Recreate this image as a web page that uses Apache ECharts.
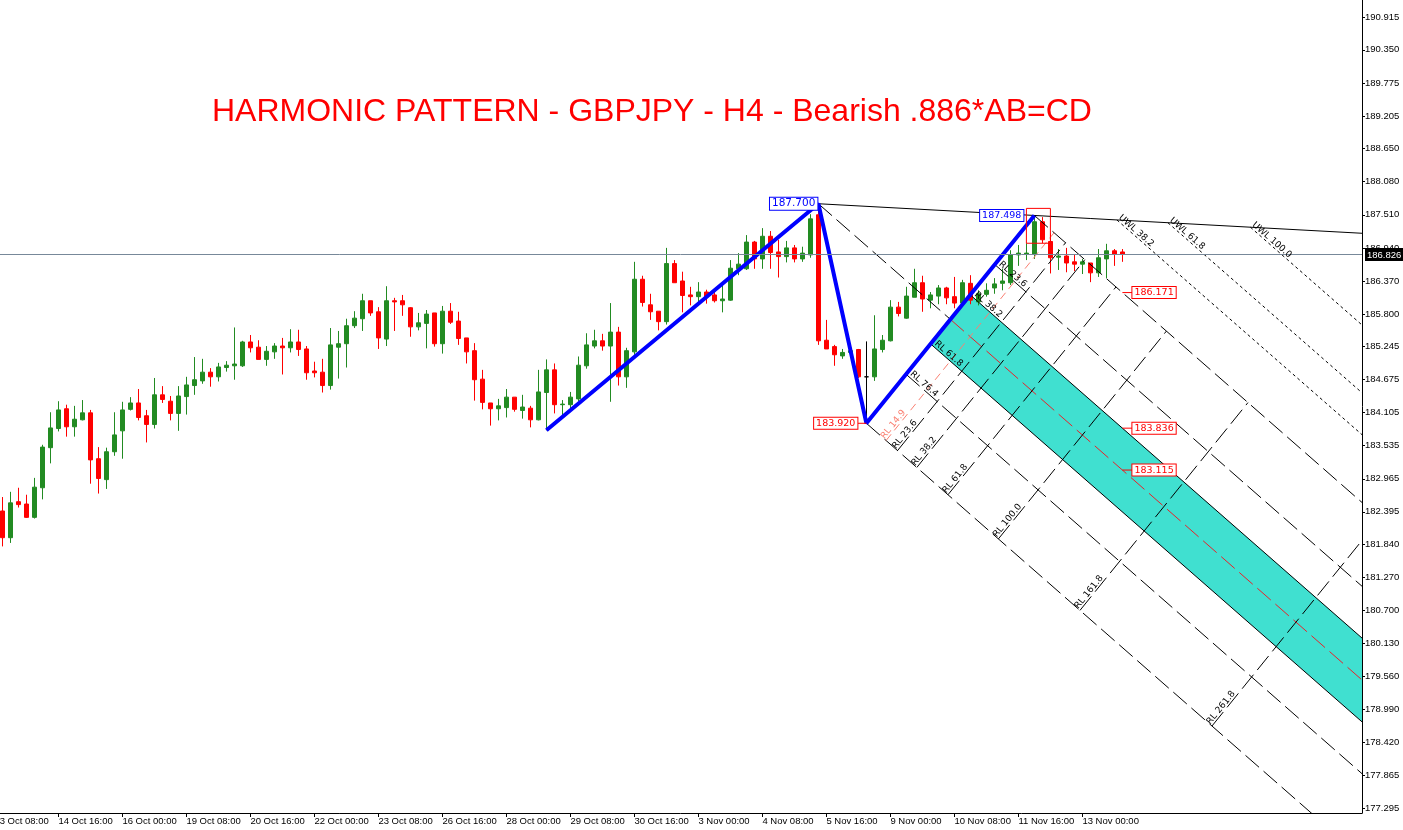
<!DOCTYPE html>
<html>
<head>
<meta charset="utf-8">
<title>GBPJPY H4 - harmonic pattern</title>
<script src="https://cdn.jsdelivr.net/npm/echarts@6/dist/echarts.min.js"></script>
<style>
html, body { margin: 0; padding: 0; background: #fff; }
#main { width: 1403px; height: 830px; }
</style>
</head>
<body>
<div id="main"></div>
<script>
// bottom labels, one every 8 H4 bars starting at bar 0
var dateLabels = ['13 Oct 08:00', '14 Oct 16:00', '16 Oct 00:00', '19 Oct 08:00', '20 Oct 16:00', '22 Oct 00:00',
    '23 Oct 08:00', '26 Oct 16:00', '28 Oct 00:00', '29 Oct 08:00', '30 Oct 16:00', '3 Nov 00:00',
    '4 Nov 08:00', '5 Nov 16:00', '9 Nov 00:00', '10 Nov 08:00', '11 Nov 16:00', '13 Nov 00:00'];
var barsPerLabel = 8;

var priceTicks = [190.915, 190.350, 189.775, 189.205, 188.650, 188.080, 187.510, 186.940, 186.370, 185.800,
    185.245, 184.675, 184.105, 183.535, 182.965, 182.395, 181.840, 181.270, 180.700, 180.130,
    179.560, 178.990, 178.420, 177.865, 177.295];
var lastPrice = 186.826;

// H4 candles, bar 1 .. bar 141
var candleOpen = [
    182.41, 181.95, 182.57, 182.53, 182.30, 182.81, 183.50, 183.83, 184.17, 183.86,
    183.98, 184.10, 183.31, 182.95, 183.43, 183.79, 184.16, 184.27, 184.05, 183.90,
    184.41, 184.30, 184.09, 184.38, 184.57, 184.65, 184.80, 184.72, 184.88, 184.91,
    184.91, 185.32, 185.23, 185.02, 185.15, 185.25, 185.22, 185.32, 185.20, 184.82,
    184.80, 184.57, 185.23, 185.29, 185.60, 185.72, 186.03, 185.84, 185.37, 186.03,
    186.03, 185.91, 185.58, 185.64, 185.82, 185.29, 185.85, 185.68, 185.39, 185.17,
    184.68, 184.27, 184.17, 184.19, 184.37, 184.14, 184.18, 183.98, 184.45, 184.84,
    184.24, 184.24, 184.34, 184.91, 185.25, 185.34, 185.25, 185.49, 184.72, 185.15,
    186.40, 185.96, 185.85, 185.67, 186.67, 186.37, 186.13, 186.10, 186.18, 186.13,
    186.03, 186.04, 186.58, 186.58, 187.04, 186.75, 187.14, 186.87, 186.79, 186.94,
    186.75, 186.82, 187.51, 185.35, 185.24, 185.08, 185.14, 185.19, 184.72, 184.72,
    185.19, 185.34, 185.92, 185.73, 186.09, 186.34, 186.04, 186.11, 186.25, 186.10,
    185.99, 186.33, 186.01, 186.14, 186.25, 186.33, 186.34, 186.82, 186.83, 186.83,
    187.39, 187.05, 186.78, 186.80, 186.70, 186.66, 186.68, 186.51, 186.75, 186.89,
    186.87];
var candleClose = [
    181.95, 182.55, 182.52, 182.30, 182.82, 183.51, 183.84, 184.15, 183.86, 183.99,
    184.10, 183.29, 182.97, 183.43, 183.72, 184.15, 184.27, 184.02, 183.90, 184.41,
    184.33, 184.09, 184.39, 184.58, 184.67, 184.80, 184.72, 184.89, 184.92, 184.94,
    185.32, 185.22, 185.02, 185.16, 185.25, 185.22, 185.32, 185.19, 184.79, 184.79,
    184.57, 185.27, 185.29, 185.60, 185.73, 186.03, 185.82, 185.39, 186.03, 186.01,
    185.96, 185.58, 185.65, 185.80, 185.29, 185.85, 185.66, 185.38, 185.15, 184.67,
    184.28, 184.17, 184.22, 184.37, 184.16, 184.20, 183.98, 184.46, 184.84, 184.24,
    184.25, 184.37, 184.92, 185.27, 185.34, 185.25, 185.49, 184.72, 185.17, 186.40,
    186.00, 185.84, 185.67, 186.67, 186.34, 186.12, 186.10, 186.18, 186.10, 186.03,
    186.06, 186.59, 186.66, 187.04, 186.75, 187.14, 186.86, 186.79, 186.94, 186.75,
    186.85, 187.44, 185.34, 185.20, 185.10, 185.14, 185.17, 184.72, 184.72, 185.20,
    185.35, 185.92, 185.81, 186.11, 186.34, 186.06, 186.13, 186.25, 186.08, 185.99,
    186.34, 186.04, 186.15, 186.21, 186.32, 186.37, 186.82, 186.85, 186.85, 187.39,
    187.08, 186.77, 186.80, 186.68, 186.66, 186.70, 186.51, 186.77, 186.89, 186.83,
    186.826];
var candleLow = [
    181.80, 181.86, 182.47, 182.29, 182.28, 182.61, 183.23, 183.78, 183.69, 183.69,
    183.97, 182.88, 182.71, 182.79, 183.36, 183.31, 184.14, 183.97, 183.59, 183.83,
    184.27, 183.97, 183.79, 184.07, 184.41, 184.60, 184.55, 184.64, 184.81, 184.67,
    184.89, 185.14, 185.02, 184.91, 185.03, 184.76, 185.14, 185.08, 184.67, 184.71,
    184.45, 184.50, 184.69, 184.88, 185.56, 185.51, 185.77, 185.20, 185.25, 185.51,
    185.77, 185.41, 185.52, 185.21, 185.24, 185.12, 185.63, 185.27, 184.95, 184.31,
    184.16, 183.88, 183.97, 184.02, 184.12, 184.00, 183.85, 183.97, 183.80, 184.09,
    184.03, 184.17, 184.30, 184.86, 185.21, 185.17, 184.29, 184.57, 184.53, 185.10,
    185.93, 185.70, 185.52, 185.62, 186.34, 185.83, 185.95, 186.00, 185.98, 186.00,
    185.83, 186.03, 186.47, 186.56, 186.58, 186.58, 186.58, 186.43, 186.69, 186.69,
    186.70, 186.77, 185.27, 185.20, 184.91, 185.03, 185.10, 184.70, 183.92, 184.65,
    185.14, 185.33, 185.76, 185.72, 186.09, 185.84, 185.90, 185.97, 185.97, 185.90,
    185.93, 185.97, 185.95, 186.10, 186.15, 186.21, 186.30, 186.63, 186.73, 186.75,
    187.02, 186.50, 186.56, 186.52, 186.54, 186.49, 186.35, 186.44, 186.42, 186.63,
    186.70];
var candleHigh = [
    182.65, 182.74, 182.81, 182.69, 182.98, 183.55, 184.11, 184.30, 184.24, 184.22,
    184.32, 184.15, 183.51, 183.50, 184.11, 184.29, 184.37, 184.51, 184.15, 184.70,
    184.56, 184.39, 184.56, 184.72, 185.06, 185.03, 184.87, 184.96, 184.99, 185.57,
    185.34, 185.44, 185.35, 185.25, 185.30, 185.39, 185.54, 185.53, 185.25, 184.98,
    185.03, 185.56, 185.51, 185.72, 185.85, 186.15, 186.03, 185.92, 186.28, 186.08,
    186.13, 185.92, 185.82, 185.87, 185.82, 185.94, 185.99, 185.84, 185.39, 185.30,
    184.84, 184.27, 184.34, 184.51, 184.37, 184.41, 184.22, 184.84, 185.02, 184.95,
    184.32, 184.46, 185.07, 185.47, 185.53, 185.46, 185.99, 185.58, 185.22, 186.70,
    186.46, 186.15, 185.85, 186.94, 186.73, 186.53, 186.27, 186.35, 186.22, 186.20,
    186.30, 186.73, 186.85, 187.16, 187.06, 187.28, 187.23, 187.08, 187.06, 186.99,
    186.96, 187.52, 187.70, 185.70, 185.27, 185.20, 185.21, 185.20, 185.33, 185.78,
    185.44, 186.04, 186.01, 186.27, 186.58, 186.46, 186.18, 186.30, 186.27, 186.44,
    186.39, 186.47, 186.21, 186.33, 186.42, 186.58, 186.90, 186.99, 187.02, 187.498,
    187.47, 187.19, 186.92, 186.94, 186.83, 186.75, 186.68, 186.92, 187.01, 186.92,
    186.92];

// A, B, C, D of the AB=CD pattern (bar number, price)
var patternBars = [69, 103, 109, 130];
var patternPrices = [183.80, 187.700, 183.920, 187.498];

// pitchfork levels
var forkLevels = [23.6, 38.2, 61.8, 76.4];
var bandLevels = [38.2, 61.8];
var warnLevels = [38.2, 61.8, 100.0];
var reactLevels = [14.9, 23.6, 38.2, 61.8, 100.0, 161.8, 261.8];

// red frame round D
var boxBars = [129, 132];
var boxPrices = [187.62, 187.02];

var X_MIN = -0.3, X_MAX = 170.95;
var Y_MIN = 177.21, Y_MAX = 191.208;
var GRID = { left: -8, top: 0, width: 1370, height: 813 };

var DASH = [18, 6];
var DOT = [3, 3];
var SMALL = '9px "DejaVu Sans"';
var BOXFONT = '9.5px "DejaVu Sans"';

function pt(x, y) { return { x: x, y: y }; }
function plus(p, d, k) { return pt(p.x + k * d.x, p.y + k * d.y); }
function minus(p, q) { return pt(p.x - q.x, p.y - q.y); }

var A = pt(patternBars[0], patternPrices[0]);
var B = pt(patternBars[1], patternPrices[1]);
var C = pt(patternBars[2], patternPrices[2]);
var D = pt(patternBars[3], patternPrices[3]);
var M = plus(C, minus(D, C), 0.5);
var medDir = minus(M, B);
var handle = minus(D, C);
var BD = minus(D, B);
var DC = minus(C, D);

function toRightEdge(p) { return plus(p, medDir, (X_MAX - p.x) / medDir.x); }
function atBar(p, bar) { return plus(p, medDir, (bar - p.x) / medDir.x); }
function crossBD(p) {
    var det = medDir.x * (-BD.y) - medDir.y * (-BD.x);
    var rx = B.x - p.x, ry = B.y - p.y;
    var t = (rx * (-BD.y) - ry * (-BD.x)) / det;
    return plus(p, medDir, t);
}

var PX_X = GRID.width / (X_MAX - X_MIN);
var PX_Y = GRID.height / (Y_MAX - Y_MIN);
function screenAngle(d) { return Math.atan2(d.y * PX_Y, d.x * PX_X) * 180 / Math.PI; }
var angMed = screenAngle(medDir);
var angHandle = screenAngle(handle);

var lines = [];
var notes = [];
function addLine(points, color, width, type, z) {
    lines.push({ points: points, color: color, width: width, type: type, z: z });
}
function note(p, text, o) {
    var n = { x: p.x, y: p.y, text: text };
    for (var k in o) n[k] = o[k];
    notes.push(n);
}

// pattern
addLine([A, B, C, D], '#0000FF', 4, 'solid', 4);
addLine([B, plus(B, BD, (X_MAX - B.x) / BD.x)], '#000000', 1, 'solid', 3);

// median and tines
addLine([B, M], '#000000', 1, DASH, 3);
addLine([M, toRightEdge(M)], '#E8222A', 1, DASH, 3);
addLine([C, toRightEdge(C)], '#000000', 1, DASH, 3);
addLine([D, toRightEdge(D)], '#000000', 1, DASH, 3);

forkLevels.forEach(function (lv) {
    var p = plus(D, DC, lv / 100);
    var solid = bandLevels.indexOf(lv) >= 0;
    addLine([p, toRightEdge(p)], '#000000', 1, solid ? 'solid' : DASH, 3);
    note(p, 'RL ' + lv.toFixed(1), { color: '#000', font: SMALL, align: 'left', valign: 'bottom', rotate: angMed, off: 3 });
});

warnLevels.forEach(function (lv) {
    var q = plus(D, handle, lv / 200);
    var s = crossBD(q);
    addLine([s, toRightEdge(q)], '#000000', 1, DOT, 3);
    note(s, 'UWL ' + lv.toFixed(1), { color: '#000', font: SMALL, align: 'left', valign: 'bottom', rotate: angMed });
});

reactLevels.forEach(function (lv) {
    var foot = plus(C, medDir, lv / 100);
    var top = plus(D, medDir, lv / 100);
    var col = lv < 20 ? '#FA8072' : '#000000';
    addLine([foot, top], col, 1, lv < 20 ? [8, 5] : DASH, 3);
    note(foot, 'RL ' + lv.toFixed(1), { color: col, font: SMALL, align: 'left', valign: 'bottom', rotate: angHandle });
});

addLine([pt(boxBars[0], boxPrices[0]), pt(boxBars[1], boxPrices[0]), pt(boxBars[1], boxPrices[1]),
    pt(boxBars[0], boxPrices[1]), pt(boxBars[0], boxPrices[0])], '#FF0000', 1, 'solid', 4);

// price boxes at the pivots
note(B, B.y.toFixed(3), { color: '#0000FF', font: '10.5px "DejaVu Sans"', align: 'right', valign: 'middle', bg: '#fff', border: '#0000FF', pad: [1, 2, 0, 2], off: -1 });
note(C, C.y.toFixed(3), { color: '#FF0000', font: BOXFONT, align: 'right', valign: 'middle', bg: '#fff', border: '#FF0000', pad: [1, 2, 0, 2], lead: -9 });
note(D, D.y.toFixed(3), { color: '#0000FF', font: BOXFONT, align: 'right', valign: 'middle', bg: '#fff', border: '#0000FF', pad: [1, 2, 0, 2], off: -11 });

// pitchfork prices at the last bar
var lastBar = candleOpen.length;
[D, plus(D, DC, bandLevels[0] / 100), M].forEach(function (p) {
    var e = atBar(p, lastBar);
    note(e, e.y.toFixed(3), { color: '#FF0000', font: BOXFONT, align: 'left', valign: 'middle', bg: '#fff', border: '#FF0000', pad: [1, 2, 0, 2], lead: 10 });
});

var bandA = plus(D, DC, bandLevels[0] / 100);
var bandB = plus(D, DC, bandLevels[1] / 100);
var bandPoly = [bandA, toRightEdge(bandA), toRightEdge(bandB), bandB];

var candles = candleOpen.map(function (o, i) {
    return [i + 1, o, candleClose[i], candleLow[i], candleHigh[i]];
});

var labelBars = dateLabels.map(function (d, i) { return i * barsPerLabel; });

function drawNote(params, api) {
    var n = notes[params.dataIndex];
    var c = api.coord([n.x, n.y]);
    var kids = [];
    if (n.lead) {
        kids.push({ type: 'line', shape: { x1: 0, y1: 0, x2: n.lead, y2: 0 }, style: { stroke: n.color, lineWidth: 1 } });
    }
    kids.push({
        type: 'text',
        x: (n.lead || 0) + (n.off || 0),
        y: 0,
        style: {
            text: n.text, fill: n.color, font: n.font,
            align: n.align, verticalAlign: n.valign,
            backgroundColor: n.bg, borderColor: n.border, borderWidth: n.border ? 1 : 0,
            padding: n.pad || 0
        }
    });
    return { type: 'group', x: c[0], y: c[1], rotation: (n.rotate || 0) * Math.PI / 180, children: kids };
}

var series = [{
    type: 'custom',
    z: 1,
    silent: true,
    data: [[bandA.x, bandA.y]],
    encode: { x: 0, y: 1 },
    renderItem: function (params, api) {
        return {
            type: 'polygon',
            shape: { points: bandPoly.map(function (p) { return api.coord([p.x, p.y]); }) },
            style: { fill: '#40E0D0' }
        };
    }
}, {
    type: 'candlestick',
    z: 2,
    silent: true,
    data: candles,
    encode: { x: 0, y: [1, 2, 3, 4] },
    barWidth: 4,
    itemStyle: {
        color: '#228B22', color0: '#FF0000',
        borderColor: '#228B22', borderColor0: '#FF0000', borderColorDoji: '#000000',
        borderWidth: 1
    },
    markLine: {
        silent: true,
        symbol: ['none', 'none'],
        label: { show: false },
        lineStyle: { color: '#778899', width: 1, type: 'solid' },
        data: [{ yAxis: lastPrice }]
    }
}];

lines.forEach(function (l) {
    series.push({
        type: 'line',
        z: l.z,
        silent: true,
        symbol: 'none',
        data: l.points.map(function (p) { return [p.x, p.y]; }),
        lineStyle: { color: l.color, width: l.width, type: l.type }
    });
});

series.push({
    type: 'custom',
    z: 5,
    silent: true,
    data: notes.map(function (n) { return [n.x, n.y]; }),
    encode: { x: 0, y: 1 },
    renderItem: drawNote
});

var myChart = echarts.init(document.getElementById('main'));
var option = {
    animation: false,
    backgroundColor: '#ffffff',
    title: {
        text: 'HARMONIC PATTERN - GBPJPY - H4 - Bearish .886*AB=CD',
        left: 212,
        top: 96,
        padding: 0,
        textStyle: { color: '#FF0000', fontSize: 32, fontWeight: 'normal', fontFamily: 'Liberation Sans' }
    },
    grid: {
        left: GRID.left, top: GRID.top, width: GRID.width, height: GRID.height,
        containLabel: false, outerBoundsMode: 'none'
    },
    xAxis: {
        type: 'value',
        min: X_MIN, max: X_MAX,
        position: 'bottom',
        splitLine: { show: false },
        axisLine: { show: true, onZero: false, lineStyle: { color: '#000', width: 1 } },
        axisTick: { show: true, customValues: labelBars, length: 4, lineStyle: { color: '#000' } },
        axisLabel: {
            customValues: labelBars,
            formatter: function (v) { return dateLabels[Math.round(v / barsPerLabel)]; },
            align: 'left', margin: 3,
            color: '#000', fontSize: 9.5, fontFamily: 'Liberation Sans'
        }
    },
    yAxis: {
        type: 'value',
        min: Y_MIN, max: Y_MAX,
        position: 'right',
        splitLine: { show: false },
        axisLine: { show: true, onZero: false, lineStyle: { color: '#000', width: 1 } },
        axisTick: { show: true, customValues: priceTicks, length: 3, lineStyle: { color: '#000' } },
        axisLabel: {
            customValues: priceTicks.concat([lastPrice]),
            formatter: function (v) {
                return Math.abs(v - lastPrice) < 1e-6 ? '{cur|' + v.toFixed(3) + '}' : v.toFixed(3);
            },
            margin: 3,
            color: '#000', fontSize: 9.5, fontFamily: 'Liberation Sans',
            rich: { cur: { color: '#fff', backgroundColor: '#000', padding: [2, 4, 1, 2], fontSize: 9.5, fontFamily: 'Liberation Sans' } }
        }
    },
    series: series
};
myChart.setOption(option);
</script>
</body>
</html>
